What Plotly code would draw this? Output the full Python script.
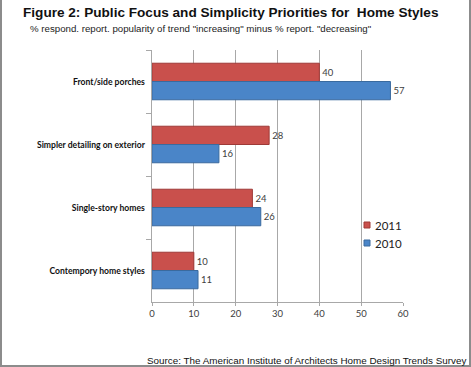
import plotly.graph_objects as go

categories = ["Front/side porches", "Simpler detailing on exterior", "Single-story homes", "Contempory home styles"]
values_2011 = [40, 28, 24, 10]
values_2010 = [57, 16, 26, 11]
series_names = ["2011", "2010"]
x_ticks = [0, 10, 20, 30, 40, 50, 60]

W, H = 471, 367
L, R, T, B = 152, 68, 50, 65
pw, ph = W - L - R, H - T - B

def px(x):
    return (x - L) / pw

def py(y):
    return (H - B - y) / ph

RED, RED_EDGE = "#C9504C", "#9E3A37"
BLUE, BLUE_EDGE = "#4A85C8", "#3A6A9E"
LABEL_FONT = dict(family="Lato, Open Sans, sans-serif", size=9.5, color="#404040")

fig = go.Figure()
fig.add_trace(go.Bar(
    y=categories, x=values_2011, name=series_names[0], orientation="h", showlegend=False,
    marker=dict(color=RED, line=dict(color=RED_EDGE, width=1)),
    text=[str(v) for v in values_2011], textposition="outside",
    textfont=LABEL_FONT, cliponaxis=False,
))
fig.add_trace(go.Bar(
    y=categories, x=values_2010, name=series_names[1], orientation="h", showlegend=False,
    marker=dict(color=BLUE, line=dict(color=BLUE_EDGE, width=1)),
    text=[str(v) for v in values_2010], textposition="outside",
    textfont=LABEL_FONT, cliponaxis=False,
))

fig.update_layout(
    width=W, height=H,
    margin=dict(l=L, r=R, t=T, b=B, autoexpand=False),
    paper_bgcolor="white", plot_bgcolor="white",
    barmode="group", bargap=0.42, bargroupgap=0,
    showlegend=False,
    xaxis=dict(range=[0, 60], tickvals=x_ticks, showgrid=True, gridcolor="#A8A8A8", gridwidth=1,
               showline=True, linecolor="#A8A8A8", ticks="outside", ticklen=3, tickcolor="#A8A8A8",
               tickfont=dict(family="Lato, Open Sans, sans-serif", size=9.5, color="#404040"),
               zeroline=False, fixedrange=True),
    yaxis=dict(autorange="reversed", showline=True, linecolor="#A8A8A8", ticks="outside",
               tickson="boundaries", ticklen=5, tickcolor="#A8A8A8", showgrid=False,
               tickfont=dict(family="Lato, Open Sans, sans-serif", size=8.6, color="#111"),
               tickprefix="<b>", ticksuffix="</b>  ", fixedrange=True),
    font=dict(family="Liberation Sans, Arial, sans-serif"),
)

# manual legend (small squares close to the labels, as in the reference)
legend_items = [(series_names[0], RED, RED_EDGE, 225), (series_names[1], BLUE, BLUE_EDGE, 243)]
for name, col, edge, yy in legend_items:
    fig.add_shape(type="rect", xref="paper", yref="paper",
                  x0=px(364), x1=px(370), y0=py(yy + 3), y1=py(yy - 3),
                  fillcolor=col, line=dict(color=edge, width=1))
    fig.add_annotation(text=name, xref="paper", yref="paper", x=px(373), y=py(yy),
                       xanchor="left", yanchor="middle", showarrow=False,
                       font=dict(family="Lato, Open Sans, sans-serif", size=11.5, color="#222"))

fig.add_annotation(text="<b>Figure 2: Public Focus and Simplicity Priorities for  Home Styles</b>",
                   xref="paper", yref="paper", x=px(21), y=py(12), xanchor="left", yanchor="middle",
                   showarrow=False, font=dict(family="Liberation Sans, Arial, sans-serif", size=13.6, color="#111"))
fig.add_annotation(text="% respond. report. popularity of trend \"increasing\" minus % report. \"decreasing\"",
                   xref="paper", yref="paper", x=px(28), y=py(28), xanchor="left", yanchor="middle",
                   showarrow=False, font=dict(family="Liberation Sans, Arial, sans-serif", size=9.7, color="#222"))
fig.add_annotation(text="Source: The American Institute of Architects Home Design Trends Survey",
                   xref="paper", yref="paper", x=px(468), y=py(360), xanchor="right", yanchor="middle",
                   showarrow=False, font=dict(family="Liberation Sans, Arial, sans-serif", size=9.85, color="#111"))

fig.add_shape(type="rect", xref="paper", yref="paper",
              x0=px(1), x1=px(470), y0=py(366), y1=py(-5),
              line=dict(color="#8C8C8C", width=2), layer="above")

fig.write_html("out.html", config={"displayModeBar": False},
               post_script="document.body.style.margin='0';document.body.style.overflow='hidden';")
